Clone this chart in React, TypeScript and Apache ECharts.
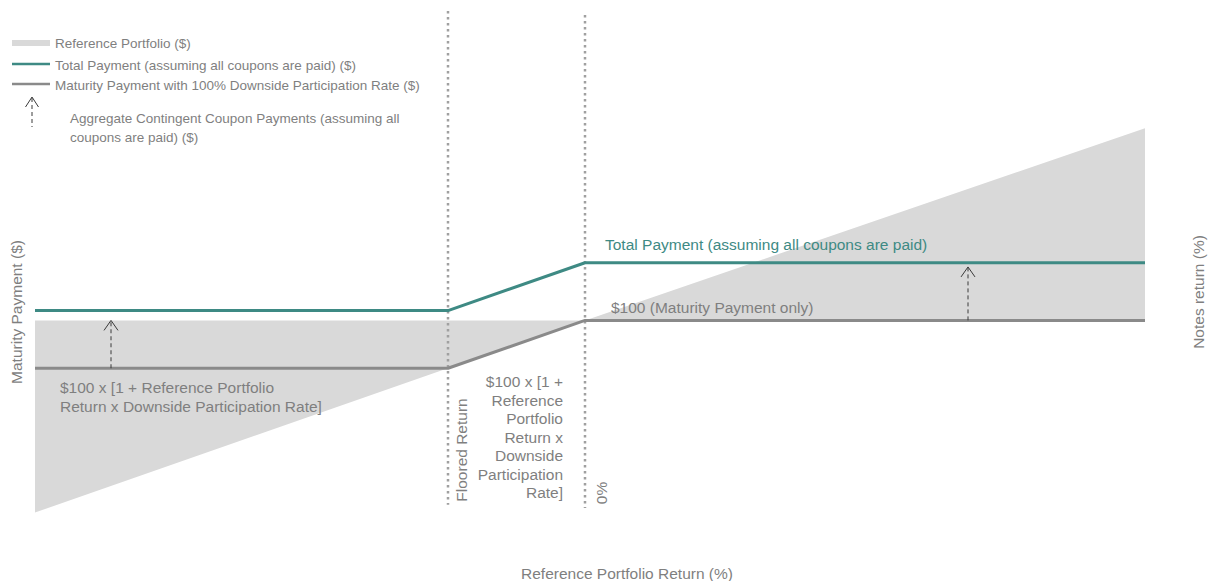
import React, { useEffect, useRef } from "react";
import * as echarts from "echarts";

// Reference portfolio return (%) on x; payment ($) on y
const refReturns = [-55, 0, 56];
const refPortfolio = [45, 100, 155];
const payReturns = [-55, -13.7, 0, 56];
const maturityPayment = [86.3, 86.3, 100, 100];
const totalPayment = [102.8, 102.8, 116.5, 116.5];
const flooredReturn = -13.7;
const zeroReturn = 0;
const couponArrowX = [-47.4, 38.3];
const couponArrowFrom = [86.3, 100];
const couponArrowTo = [100, 115.3];

const FONT = "'Liberation Sans', Arial, sans-serif";
const TEAL = "#3e8a84";
const GRAY_LINE = "#8a8a8a";
const AREA = "#d9d9d9";
const TEXT = "#7f7f7f";
const DOT = "#a0a0a0";
const ARROW = "#3a3a3a";
const F_MAIN = `15.5px ${FONT}`;
const F_LEG = `13.5px ${FONT}`;

export default function App() {
  const ref = useRef<HTMLDivElement>(null);
  useEffect(() => {
    document.body.style.margin = "0";
    const chart = echarts.init(ref.current!, null, { renderer: "svg" });
    const arrowData = couponArrowX.map((x, i) => [x, couponArrowFrom[i], couponArrowTo[i]]);
    const graphics: any[] = [
      // legend
      { type: "rect", shape: { x: 12, y: 40, width: 38, height: 6 }, style: { fill: AREA } },
      { type: "text", x: 55, y: 43, style: { text: "Reference Portfolio ($)", fill: TEXT, font: F_LEG, verticalAlign: "middle" } },
      { type: "line", shape: { x1: 12, y1: 64, x2: 50, y2: 64 }, style: { stroke: TEAL, lineWidth: 2.5 } },
      { type: "text", x: 55, y: 65, style: { text: "Total Payment (assuming all coupons are paid) ($)", fill: TEXT, font: F_LEG, verticalAlign: "middle" } },
      { type: "line", shape: { x1: 12, y1: 84, x2: 50, y2: 84 }, style: { stroke: GRAY_LINE, lineWidth: 2.5 } },
      { type: "text", x: 55, y: 85, style: { text: "Maturity Payment with 100% Downside Participation Rate ($)", fill: TEXT, font: F_LEG, verticalAlign: "middle" } },
      { type: "line", shape: { x1: 32, y1: 98, x2: 32, y2: 127 }, style: { stroke: ARROW, lineWidth: 1, lineDash: [4, 3] } },
      { type: "polyline", shape: { points: [[25.5, 107], [32, 97], [38.5, 107]] }, style: { stroke: ARROW, fill: "none", lineWidth: 1 } },
      { type: "text", x: 70, y: 108.5, style: { text: "Aggregate Contingent Coupon Payments (assuming all\ncoupons are paid) ($)", fill: TEXT, font: F_LEG, lineHeight: 19.5, verticalAlign: "top" } },
      // annotations
      { type: "text", x: 605, y: 244, style: { text: "Total Payment (assuming all coupons are paid)", fill: TEAL, font: F_MAIN, verticalAlign: "middle" } },
      { type: "text", x: 611, y: 307, style: { text: "$100 (Maturity Payment only)", fill: TEXT, font: F_MAIN, verticalAlign: "middle" } },
      { type: "text", x: 60, y: 377.5, style: { text: "$100 x [1 + Reference Portfolio\nReturn x Downside Participation Rate]", fill: TEXT, font: F_MAIN, lineHeight: 19, verticalAlign: "top" } },
      { type: "text", x: 563, y: 372.7, style: { text: "$100 x [1 +\nReference\nPortfolio\nReturn x\nDownside\nParticipation\nRate]", fill: TEXT, font: F_MAIN, lineHeight: 18.5, align: "right", verticalAlign: "top" } },
      { type: "text", x: 461, y: 450, rotation: Math.PI / 2, style: { text: "Floored Return", fill: TEXT, font: F_MAIN, align: "center", verticalAlign: "middle" } },
      { type: "text", x: 601, y: 493, rotation: Math.PI / 2, style: { text: "0%", fill: TEXT, font: F_MAIN, align: "center", verticalAlign: "middle" } },
      // axis titles
      { type: "text", x: 16, y: 312, rotation: Math.PI / 2, style: { text: "Maturity Payment ($)", fill: TEXT, font: F_MAIN, align: "center", verticalAlign: "middle" } },
      { type: "text", x: 1198, y: 292, rotation: Math.PI / 2, style: { text: "Notes return (%)", fill: TEXT, font: F_MAIN, align: "center", verticalAlign: "middle" } },
      { type: "text", x: 627, y: 573, style: { text: "Reference Portfolio Return (%)", fill: TEXT, font: F_MAIN, align: "center", verticalAlign: "middle" } },
    ].map((g) => ({ ...g, z: 100 }));
    const option: any = {
      animation: false,
      grid: { left: 35, right: 67, top: 6, bottom: 51 },
      xAxis: {
        type: "value",
        min: -55,
        max: 56,
        axisLine: { show: false },
        axisTick: { show: false },
        axisLabel: { show: false },
        splitLine: { show: false },
      },
      yAxis: {
        type: "value",
        min: 40,
        max: 190,
        axisLine: { show: false },
        axisTick: { show: false },
        axisLabel: { show: false },
        splitLine: { show: false },
      },
      series: [
        {
          name: "Reference Portfolio ($)",
          type: "line",
          data: refReturns.map((x, i) => [x, refPortfolio[i]]),
          symbol: "none",
          lineStyle: { width: 0, opacity: 0 },
          areaStyle: { color: AREA, opacity: 1, origin: 100 },
          z: 1,
        },
        {
          name: "Floored Return",
          type: "line",
          data: [
            [flooredReturn, 188.6],
            [flooredReturn, 47.2],
          ],
          symbol: "none",
          lineStyle: { color: DOT, width: 2.5, type: [2.5, 3.5] },
          z: 2,
        },
        {
          name: "0%",
          type: "line",
          data: [
            [zeroReturn, 187.4],
            [zeroReturn, 46.3],
          ],
          symbol: "none",
          lineStyle: { color: DOT, width: 2.5, type: [2.5, 3.5] },
          z: 2,
        },
        {
          name: "Maturity Payment with 100% Downside Participation Rate ($)",
          type: "line",
          data: payReturns.map((x, i) => [x, maturityPayment[i]]),
          symbol: "none",
          lineStyle: { color: GRAY_LINE, width: 3 },
          z: 3,
        },
        {
          name: "Total Payment (assuming all coupons are paid) ($)",
          type: "line",
          data: payReturns.map((x, i) => [x, totalPayment[i]]),
          symbol: "none",
          lineStyle: { color: TEAL, width: 3 },
          z: 4,
        },
        {
          name: "Aggregate Contingent Coupon Payments (assuming all coupons are paid) ($)",
          type: "custom",
          data: arrowData,
          encode: { x: 0, y: [1, 2] },
          z: 5,
          renderItem: (params: any, api: any) => {
            const x = api.value(0);
            const p0 = api.coord([x, api.value(1)]);
            const p1 = api.coord([x, api.value(2)]);
            return {
              type: "group",
              children: [
                {
                  type: "line",
                  shape: { x1: p0[0], y1: p0[1], x2: p1[0], y2: p1[1] },
                  style: { stroke: ARROW, lineWidth: 1, lineDash: [4, 3] },
                },
                {
                  type: "polyline",
                  shape: {
                    points: [
                      [p1[0] - 7, p1[1] + 10],
                      [p1[0], p1[1]],
                      [p1[0] + 7, p1[1] + 10],
                    ],
                  },
                  style: { stroke: ARROW, fill: "none", lineWidth: 1 },
                },
              ],
            };
          },
        },
      ],
      graphic: graphics,
    };
    chart.setOption(option);
    return () => chart.dispose();
  }, []);
  return <div ref={ref} style={{ width: 1212, height: 581 }} />;
}
